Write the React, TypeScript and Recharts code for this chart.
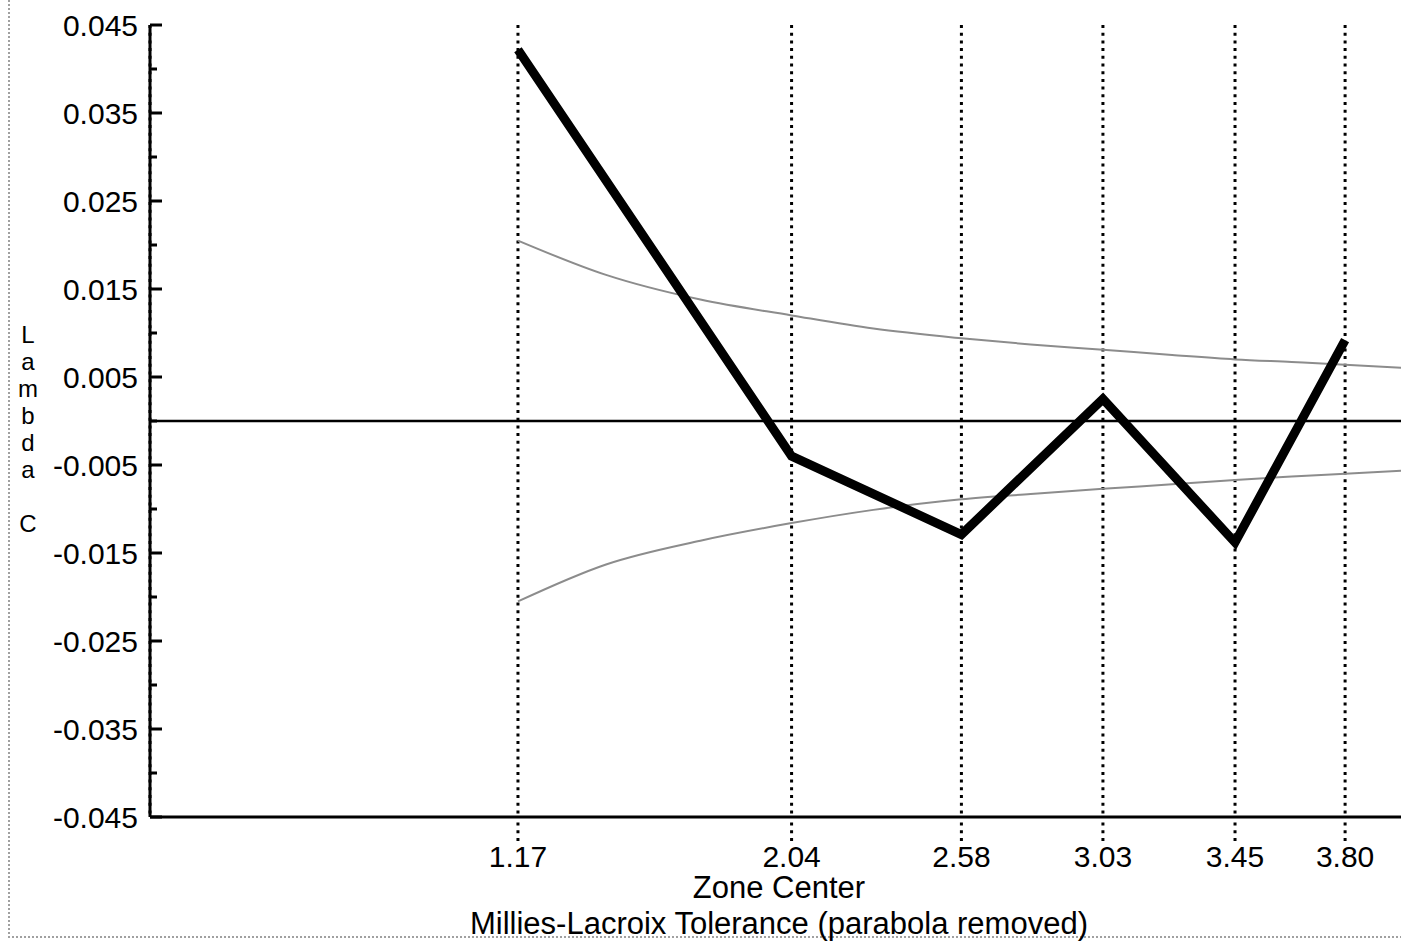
import { LineChart, Line, XAxis, YAxis, CartesianGrid, ReferenceLine } from 'recharts'

// zone centres and the measured lambda C at each
const zones = [1.17, 2.04, 2.58, 3.03, 3.45, 3.8]
const lambdaC = [0.0422, -0.004, -0.0129, 0.0025, -0.0138, 0.0092]

// Millies-Lacroix tolerance band
const tolX = [1.17, 1.45, 1.75, 2.04, 2.3, 2.58, 2.8, 3.03, 3.25, 3.45, 3.63, 3.8, 4.0]
const tolUpper = [0.0205, 0.0166, 0.0138, 0.012, 0.0105, 0.0094, 0.0087, 0.0081, 0.0075, 0.007, 0.0067, 0.0064, 0.006]
const tolLower = [-0.0205, -0.0163, -0.0136, -0.0116, -0.0101, -0.0089, -0.0083, -0.0077, -0.0072, -0.0067, -0.0063, -0.006, -0.0056]

const xTicks = [1.17, 2.04, 2.58, 3.03, 3.45, 3.8]
const yTicks = [
  -0.045, -0.04, -0.035, -0.03, -0.025, -0.02, -0.015, -0.01, -0.005, 0,
  0.005, 0.01, 0.015, 0.02, 0.025, 0.03, 0.035, 0.04, 0.045,
]
const yTitle = ['L', 'a', 'm', 'b', 'd', 'a', '', 'C']

const mainData = zones.map((x, i) => ({ x, y: lambdaC[i] }))
const upperData = tolX.map((x, i) => ({ x, y: tolUpper[i] }))
const lowerData = tolX.map((x, i) => ({ x, y: tolLower[i] }))

const DOTTED = '3 4.7'

function YTick(props: any) {
  const { x, y, payload } = props
  const v = payload.value as number
  const major = Math.round(Math.abs(v) * 1000) % 10 === 5
  return (
    <g>
      <line x1={x} x2={x + (major ? 12 : 7)} y1={y} y2={y} stroke="#000" strokeWidth={3} />
      {major && (
        <text x={x - 12} y={y} dy="0.36em" textAnchor="end" fontSize={30} fill="#000">
          {v.toFixed(3)}
        </text>
      )}
    </g>
  )
}

function XTitle(props: any) {
  const vb = props.viewBox || { x: 150, y: 817, width: 1258 }
  const cx = vb.x + vb.width / 2
  return (
    <g>
      <text x={cx} y={vb.y + 81} textAnchor="middle" fontSize={31} fill="#000">Zone Center</text>
      <text x={cx} y={vb.y + 117} textAnchor="middle" fontSize={31} fill="#000">
        Millies-Lacroix Tolerance (parabola removed)
      </text>
    </g>
  )
}

// stacked letters, one per line, blank line before the C
function YTitle(props: any) {
  const vb = props.viewBox || { x: 0, y: 25, width: 150, height: 792 }
  const cy = vb.y + vb.height / 2
  let row = 0
  return (
    <g>
      {yTitle.map((c, i) => {
        const yy = cy - 78 + row * 27
        row += 1
        if (!c) return null
        return (
          <text key={i} x={28} y={yy} textAnchor="middle" fontSize={24} fill="#000">{c}</text>
        )
      })}
    </g>
  )
}

export default function App() {
  return (
    <div
      style={{
        position: 'absolute', left: 0, top: 0, width: 1401, height: 947,
        overflow: 'hidden', background: '#fff',
        fontFamily: '"Liberation Sans", Arial, Helvetica, sans-serif',
      }}
    >
      <div
        style={{
          position: 'absolute', left: 8, top: -4, width: 1400, height: 940,
          borderLeft: '2px dotted #a0a0a0', borderBottom: '2px dotted #a0a0a0',
        }}
      />
      <LineChart width={1408} height={947} margin={{ top: 25, right: 0, bottom: 0, left: 0 }}>
        <CartesianGrid horizontal={false} stroke="#000" strokeWidth={3} strokeDasharray={DOTTED} />
        <XAxis
          type="number"
          dataKey="x"
          domain={[0, 4]}
          ticks={xTicks}
          interval={0}
          height={130}
          tickFormatter={(v: number) => v.toFixed(2)}
          tick={{ fontSize: 30, fill: '#000' }}
          tickSize={24}
          tickMargin={5}
          tickLine={{ stroke: '#000', strokeWidth: 3, strokeDasharray: DOTTED }}
          axisLine={{ stroke: '#000', strokeWidth: 3 }}
          label={<XTitle />}
        />
        <YAxis
          type="number"
          domain={[-0.045, 0.045]}
          ticks={yTicks}
          interval={0}
          width={150}
          tickSize={0}
          tickMargin={0}
          tickLine={false}
          tick={<YTick />}
          axisLine={{ stroke: '#000', strokeWidth: 3 }}
          label={<YTitle />}
        />
        <ReferenceLine y={0} stroke="#000" strokeWidth={2.5} />
        <Line
          data={upperData}
          dataKey="y"
          type="monotone"
          stroke="#8c8c8c"
          strokeWidth={2}
          dot={false}
          activeDot={false}
          isAnimationActive={false}
        />
        <Line
          data={lowerData}
          dataKey="y"
          type="monotone"
          stroke="#8c8c8c"
          strokeWidth={2}
          dot={false}
          activeDot={false}
          isAnimationActive={false}
        />
        <Line
          data={mainData}
          dataKey="y"
          type="linear"
          stroke="#000"
          strokeWidth={9}
          strokeLinejoin="miter"
          dot={false}
          activeDot={false}
          isAnimationActive={false}
        />
      </LineChart>
    </div>
  )
}
